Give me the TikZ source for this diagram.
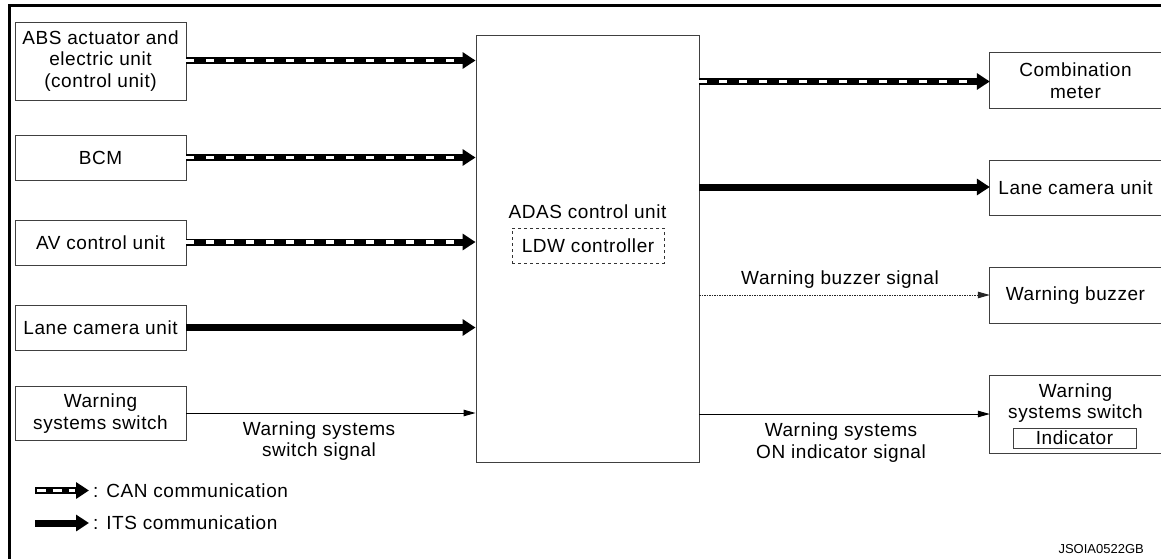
\documentclass[tikz,border=0pt]{standalone}
\usepackage{fontspec}
\setmainfont[LetterSpace=3]{Liberation Sans}
\newfontfamily\codefont{Liberation Sans}
\usetikzlibrary{arrows.meta}
\newcommand{\fsmain}{\fontsize{19}{21.5}\selectfont}
\begin{document}
\begin{tikzpicture}[x=1pt,y=-1pt,
  boxline/.style={draw=black!75, line width=0.9pt},
  box/.style={boxline, align=center, inner sep=0pt, font=\fsmain},
  rbox/.style={draw=none, align=center, inner sep=0pt, font=\fsmain},
  lbl/.style={align=center, inner sep=0pt, font=\fsmain},
  can/.style={line width=7pt, -{Triangle[length=13pt,width=16pt]}},
  canw/.style={draw=white, line width=3.6pt, dash pattern=on 8pt off 12pt},
  its/.style={line width=7pt, -{Triangle[length=13pt,width=16pt]}},
  sig/.style={line width=1pt, -{Triangle[length=12pt,width=6.5pt]}},
  sigd/.style={line width=1pt, draw=black!85, dash pattern=on 1.5pt off 1pt, -{Triangle[length=12pt,width=6.5pt]}}
]
\useasboundingbox (0,0) rectangle (1161,558);
\clip (0,0) rectangle (1161,558);
% frame
\draw[line width=3pt] (9,570) -- (9,5.5) -- (1170,5.5);

% left boxes
\node[box, minimum width=171pt, minimum height=78pt] (abs) at (100.5,61) {ABS actuator and\\electric unit\\(control unit)};
\node[box, minimum width=171pt, minimum height=45pt] (bcm) at (100.5,157.5) {BCM};
\node[box, minimum width=171pt, minimum height=45pt] (av) at (100.5,242.5) {AV control unit};
\node[box, minimum width=171pt, minimum height=45pt] (lcl) at (100.5,327.5) {Lane camera unit};
\node[box, minimum width=171pt, minimum height=54pt] (wsl) at (100.5,413.5) {Warning\\systems switch};

% ADAS
\node[boxline, minimum width=223pt, minimum height=427pt, inner sep=0pt] (adas) at (587.5,248.5) {};
\node[lbl] (adast) at (587.5,212) {ADAS control unit};
\node[draw=black!80, line width=0.8pt, dashed, minimum width=152pt, minimum height=35pt, inner sep=0pt, font=\fsmain] (ldw) at (588,245.5) {LDW controller};

% right boxes
\node[rbox, minimum width=171pt, minimum height=55pt] (cm) at (1075.5,80.5) {Combination\\meter};
\node[rbox, minimum width=171pt, minimum height=55pt] (lcr) at (1075.5,188) {Lane camera unit};
\node[rbox, minimum width=171pt, minimum height=55pt] (wb) at (1075.5,295.5) {Warning buzzer};
\node[rbox, minimum width=171pt, minimum height=77pt, text depth=0pt] (wsr) at (1075.5,414.5) {};
\node[lbl] (wsrt) at (1075.5,403) {Warning\\systems switch};
\node[boxline, minimum width=123pt, minimum height=20pt, inner sep=0pt, font=\fsmain] (ind) at (1074.5,438) {Indicator};
\foreach \n in {cm,lcr,wb,wsr}
  \draw[boxline] ([xshift=12pt]\n.north east) -- (\n.north west) -- (\n.south west) -- ([xshift=12pt]\n.south east);

% CAN arrows in
\foreach \n/\y in {abs/60.5,bcm/157.5,av/242}{
  \coordinate (s) at (186,\y);
  \draw[can] (s) -- (s -| adas.west);
  \draw[canw] (s) -- ([xshift=-14pt]s -| adas.west);
}
% ITS in
\draw[its] (lcl.east) -- (lcl.east -| adas.west);
% switch signal
\coordinate (wsa) at (186,413);
\draw[sig] (wsa) -- (wsa -| adas.west);
\node[lbl] (wssl) at (319,441) {Warning systems\\switch signal};

% outputs
\coordinate (cma) at (699,81.5);
\draw[can] (cma) -- (cma -| cm.west);
\draw[canw] (cma) -- ([xshift=-14pt]cma -| cm.west);
\coordinate (lca) at (699,187);
\draw[its] (lca) -- (lca -| lcr.west);
\coordinate (wba) at (699,295);
\draw[sigd] (wba) -- (wba -| wb.west);
\node[lbl] (wbl) at (840,280) {Warning buzzer signal};
\coordinate (wsb) at (699,414);
\draw[sig] (wsb) -- (wsb -| wsr.west);
\node[lbl] (wsol) at (841,442.5) {Warning systems\\ON indicator signal};

% legend
\coordinate (l1a) at (35,490.5);
\coordinate (l1b) at (89,490.5);
\draw[can] (l1a) -- (l1b);
\draw[draw=white, line width=3.6pt, dash pattern=on 9pt off 7pt] ([xshift=1.5pt]l1a) -- ([xshift=-14pt]l1b);
\node[lbl, anchor=west] (l1t) at (93,490.5) {: CAN communication};
\coordinate (l2a) at (35,523);
\coordinate (l2b) at (89,523);
\draw[its] (l2a) -- (l2b);
\node[lbl, anchor=west] (l2t) at (93,523) {: ITS communication};

\node[inner sep=0pt, font=\codefont\fontsize{13}{15}\selectfont, anchor=east] (code) at (1144,549) {JSOIA0522GB};
\end{tikzpicture}
\end{document}
